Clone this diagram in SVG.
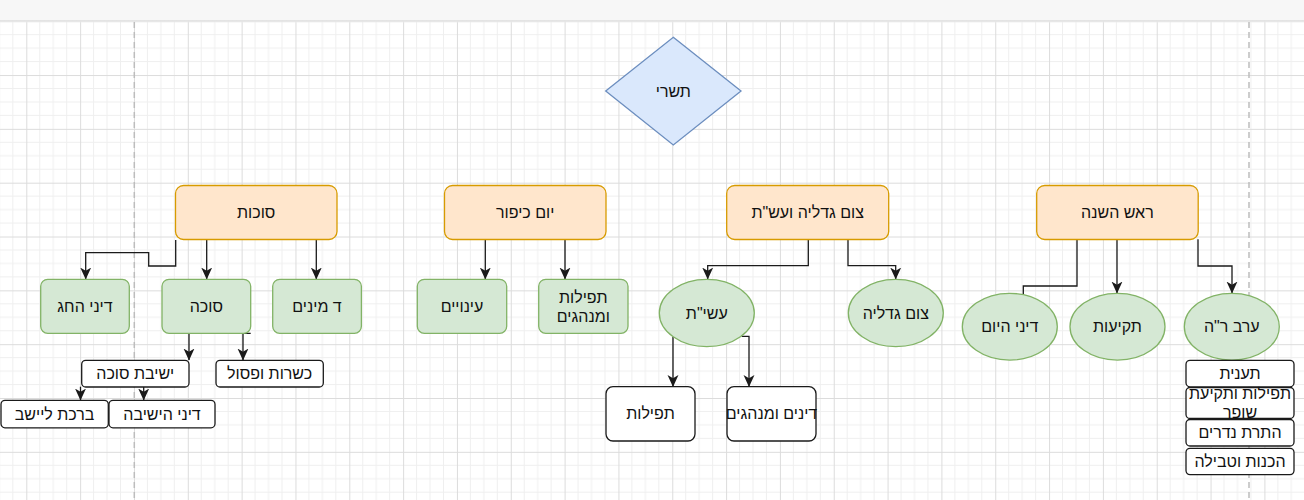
<svg xmlns="http://www.w3.org/2000/svg" width="1304" height="500" viewBox="0 0 1304 500">
<style>
.t{font-family:"Liberation Sans",Arial,"DejaVu Sans",sans-serif;font-size:16px;fill:#111111;text-anchor:middle;dominant-baseline:central;direction:rtl}
.or{fill:#ffe6cc;stroke:#d79b00;stroke-width:1.3}
.gr{fill:#d5e8d4;stroke:#82b366;stroke-width:1.3}
.wh{fill:#ffffff;stroke:#1a1a1a;stroke-width:1.3}
.bl{fill:#dae8fc;stroke:#6c8ebf;stroke-width:1.3}
.c{fill:none;stroke:#1a1a1a;stroke-width:1.3}
.ca{fill:none;stroke:#1a1a1a;stroke-width:1.3;marker-end:url(#arr)}
</style>
<defs>
<pattern id="grid" patternUnits="userSpaceOnUse" x="26.3" y="21.2" width="53.83" height="53.83">
<path d="M13.46 0V53.83M26.92 0V53.83M40.37 0V53.83M0 13.46H53.83M0 26.92H53.83M0 40.37H53.83" stroke="#efefef" stroke-width="1" fill="none"/>
<path d="M0.5 0V53.83M0 0.5H53.83" stroke="#dcdcdc" stroke-width="1" fill="none"/>
</pattern>
<linearGradient id="sh" x1="0" y1="0" x2="0" y2="1">
<stop offset="0" stop-color="#d8d8d8"/>
<stop offset="1" stop-color="#ffffff" stop-opacity="0"/>
</linearGradient>
<marker id="arr" markerUnits="userSpaceOnUse" markerWidth="12" markerHeight="12" viewBox="0 0 11 10" refX="10.5" refY="5" orient="auto">
<path d="M0,0 L11,5 L0,10 L3,5 Z" fill="#1a1a1a"/>
</marker>
</defs>
<rect x="0" y="0" width="1304" height="500" fill="#ffffff"/>
<rect x="0" y="21" width="1304" height="479" fill="url(#grid)"/>
<rect x="0" y="0" width="1304" height="20" fill="#f7f7f7"/>
<rect x="0" y="20" width="1304" height="3" fill="url(#sh)"/>
<path d="M134.3 22V500M1249 22V500" stroke="#bdbdbd" stroke-width="1.5" stroke-dasharray="6 4" fill="none"/>

<g id="connectors">
<path class="ca" d="M175.7 240V266H148.7V252.7H85.7V279"/>
<path class="ca" d="M206.7 240V279"/>
<path class="ca" d="M316.3 240V279"/>
<path class="ca" d="M189 333.3V360"/>
<path class="ca" d="M250.7 333.3H243V360"/>
<path class="ca" d="M80.5 386.7V400"/>
<path class="ca" d="M143.7 386.7V400"/>
<path class="ca" d="M485.3 239.3V279"/>
<path class="ca" d="M565 239.3V279"/>
<path class="ca" d="M808.3 239.3V265.7H707.7V279"/>
<path class="ca" d="M848 239.3V265.7H895.7V279"/>
<path class="ca" d="M673 337V386.5"/>
<path class="ca" d="M741.7 336.3H749V386.5"/>
<path class="c" d="M1077 239.3V286H1023.3V295"/>
<path class="ca" d="M1117 239.3V293"/>
<path class="ca" d="M1198 239.3V266H1232V293"/>
</g>

<g id="n-tishrei"><polygon class="bl" points="673.3,37.3 741,91 673.3,145 605.7,91"/><text class="t" x="673.3" y="91">תשרי</text></g>

<g id="n-sukkot"><rect class="or" x="175.5" y="185.5" width="161.5" height="54" rx="8"/><text class="t" x="256.2" y="212.5">סוכות</text></g>
<g id="n-yomkippur"><rect class="or" x="444.5" y="185.5" width="161.5" height="54" rx="8"/><text class="t" x="525.2" y="212.5">יום כיפור</text></g>
<g id="n-tzom"><rect class="or" x="726.7" y="185.5" width="162" height="54" rx="8"/><text class="t" x="807.7" y="212.5">צום גדליה ועש"ת</text></g>
<g id="n-rh"><rect class="or" x="1036.7" y="185.5" width="161.5" height="54" rx="8"/><text class="t" x="1117.4" y="212.5">ראש השנה</text></g>

<g id="n-dinei-hachag"><rect class="gr" x="40.7" y="279.3" width="88.6" height="54" rx="7"/><text class="t" x="85" y="306.3">דיני החג</text></g>
<g id="n-sukka"><rect class="gr" x="162" y="279.3" width="88.7" height="54" rx="7"/><text class="t" x="206.3" y="306.3">סוכה</text></g>
<g id="n-minim"><rect class="gr" x="272.7" y="279.3" width="88.7" height="54" rx="7"/><text class="t" x="317" y="306.3">ד מינים</text></g>
<g id="n-innuyim"><rect class="gr" x="417.3" y="279.3" width="89.4" height="54" rx="7"/><text class="t" x="462" y="306.3">עינויים</text></g>
<g id="n-tefillot-yk"><rect class="gr" x="538.7" y="279.3" width="89.3" height="54" rx="7"/><text class="t" x="583.3" y="297">תפילות</text><text class="t" x="583.3" y="316.5">ומנהגים</text></g>

<g id="n-aseret"><ellipse class="gr" cx="706.8" cy="313" rx="47.5" ry="33.7"/><text class="t" x="706.8" y="313">עשי"ת</text></g>
<g id="n-tzomgedalia"><ellipse class="gr" cx="895.8" cy="313" rx="47.5" ry="33.7"/><text class="t" x="895.8" y="313">צום גדליה</text></g>
<g id="n-dinei-hayom"><ellipse class="gr" cx="1009.8" cy="326.7" rx="47.5" ry="33.4"/><text class="t" x="1009.8" y="326.7">דיני היום</text></g>
<g id="n-tekiot"><ellipse class="gr" cx="1117.5" cy="326.7" rx="47.5" ry="33.4"/><text class="t" x="1117.5" y="326.7">תקיעות</text></g>
<g id="n-erev-rh"><ellipse class="gr" cx="1231.8" cy="326.7" rx="47.5" ry="33.4"/><text class="t" x="1231.8" y="326.7">ערב ר"ה</text></g>

<g id="n-tefillot"><rect class="wh" x="606" y="386.7" width="89" height="54.3" rx="7"/><text class="t" x="650.5" y="413.8">תפילות</text></g>
<g id="n-dinim"><rect class="wh" x="727" y="386.7" width="89" height="54.3" rx="7"/><text class="t" x="771.5" y="413.8">דינים ומנהגים</text></g>
<g id="n-yeshivat"><rect class="wh" x="81.7" y="360.3" width="107.3" height="26.7" rx="4"/><text class="t" x="135.3" y="373.6">ישיבת סוכה</text></g>
<g id="n-kashrut"><rect class="wh" x="216" y="360.3" width="107.3" height="26.7" rx="4"/><text class="t" x="269.6" y="373.6">כשרות ופסול</text></g>
<g id="n-bracha"><rect class="wh" x="1" y="400.3" width="107.3" height="27.5" rx="4"/><text class="t" x="54.6" y="414">ברכת ליישב</text></g>
<g id="n-dinei-yeshiva"><rect class="wh" x="109" y="400.3" width="106" height="27.5" rx="4"/><text class="t" x="162" y="414">דיני הישיבה</text></g>

<g id="n-tefillot-shofar"><rect class="wh" x="1186" y="387.5" width="108" height="31" rx="4"/><text class="t" x="1240" y="393">תפילות ותקיעת</text><text class="t" x="1240" y="412">שופר</text></g>
<g id="n-taanit"><rect class="wh" x="1186" y="360.3" width="108" height="26.5" rx="4"/><text class="t" x="1240" y="373.5">תענית</text></g>
<g id="n-hatarat"><rect class="wh" x="1186" y="419.5" width="108" height="26.5" rx="4"/><text class="t" x="1240" y="432.7">התרת נדרים</text></g>
<g id="n-hachanot"><rect class="wh" x="1186" y="448.3" width="108" height="26.3" rx="4"/><text class="t" x="1240" y="461.5">הכנות וטבילה</text></g>
</svg>
